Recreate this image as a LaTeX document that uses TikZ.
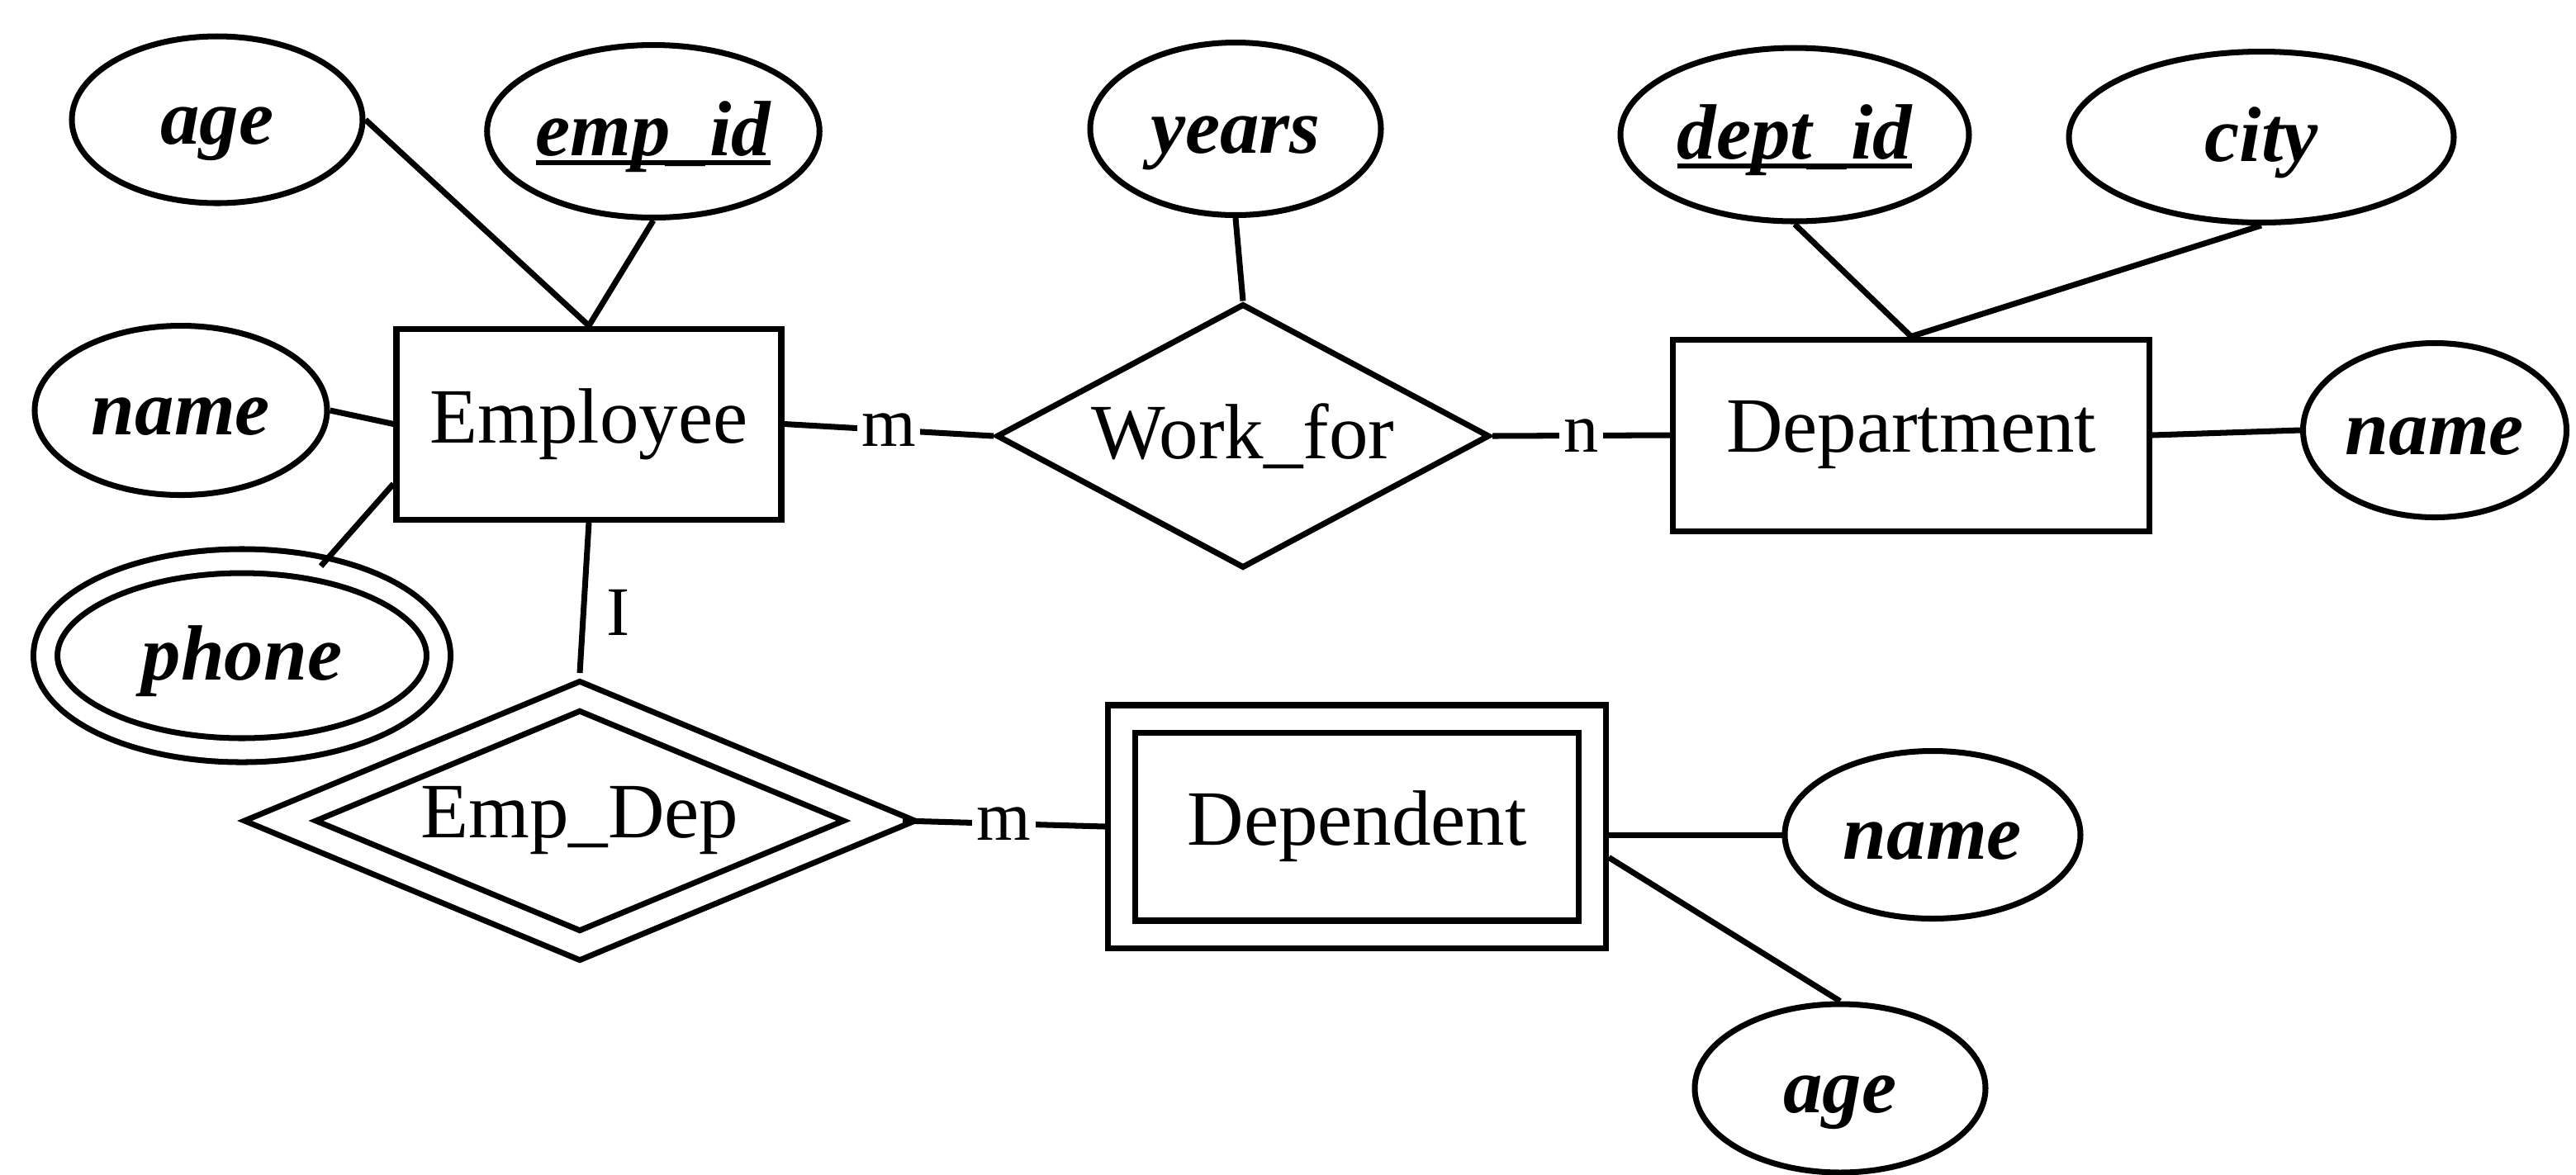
\documentclass[tikz,border=0pt]{standalone}
\usepackage{fontspec}
\setmainfont{Liberation Serif}
\usetikzlibrary{shapes.geometric}
\newcommand{\keyline}[1]{\begingroup\sbox0{#1}\rlap{\rule[-0.12em]{\wd0}{0.07em}}\usebox0\endgroup}
\begin{document}
\begin{tikzpicture}[
        line width=2pt,
        every node/.style={font=\fontsize{27}{32}\selectfont},
        attr/.style={draw, ellipse, inner sep=0pt, text height=23pt, text depth=6pt, font=\fontsize{27}{32}\selectfont\bfseries\itshape},
        entity/.style={draw, rectangle, inner sep=0pt},
        rel/.style={draw, diamond, inner sep=0pt},
        weak/.style={double, double distance=0.26cm, outer sep=0.2cm},
        card/.style={fill=white, inner sep=1.5pt, font=\fontsize{24}{28}\selectfont},
        cardside/.style={anchor=west, inner sep=7pt, font=\fontsize{24}{28}\selectfont}]
        \useasboundingbox (0,0) rectangle (31.19,-14.22);
        \node[attr, minimum width=3.52cm, minimum height=2.02cm] (age) at (2.63,-1.45) {age};
        \node[attr, minimum width=3.91cm, minimum height=2.09cm] (empid) at (7.91,-1.59) {\keyline{emp\_id}};
        \node[attr, minimum width=3.52cm, minimum height=2.09cm] (years) at (14.96,-1.56) {years};
        \node[attr, minimum width=4.22cm, minimum height=2.10cm] (deptid) at (21.73,-1.63) {\keyline{dept\_id}};
        \node[attr, minimum width=4.66cm, minimum height=2.07cm] (city) at (27.38,-1.66) {city};
        \node[attr, minimum width=3.54cm, minimum height=2.05cm] (ename) at (2.19,-4.97) {name};
        \node[attr, double, double distance=0.22cm, minimum width=4.76cm, minimum height=2.29cm] (phone) at (2.93,-7.94) {phone};
        \node[entity, minimum width=4.66cm, minimum height=2.31cm] (employee) at (7.13,-5.135) {Employee};
        \node[rel, aspect=1.87, minimum width=5.97cm, minimum height=3.20cm] (workfor) at (15.05,-5.28) {Work\_for};
        \node[entity, minimum width=5.77cm, minimum height=2.32cm] (dept) at (23.14,-5.27) {Department};
        \node[attr, minimum width=3.19cm, minimum height=2.11cm] (dname) at (29.48,-5.21) {name};
        \node[rel, weak, aspect=2.33, minimum width=7.42cm, minimum height=3.18cm] (empdep) at (7.02,-9.94) {Emp\_Dep};
        \node[entity, weak, minimum width=5.70cm, minimum height=2.61cm] (dependent) at (16.43,-10.01) {Dependent};
        \node[attr, minimum width=3.58cm, minimum height=2.03cm] (depname) at (23.40,-10.11) {name};
        \node[attr, minimum width=3.52cm, minimum height=2.04cm] (depage) at (22.28,-13.18) {age};
        \draw (age.east) -- (employee.north);
        \draw (empid.south) -- (employee.north);
        \draw (ename.east) -- (employee.west);
        \draw (employee.197) -- (phone);
        \draw (employee.east) -- node[card] {m} (workfor.west);
        \draw (workfor.east) -- node[card] {n} (dept.west);
        \draw (years.south) -- (workfor.north);
        \draw (deptid.south) -- (dept.north);
        \draw (city.south) -- (dept.north);
        \draw (dept.east) -- (dname.west);
        \draw (employee.south) -- node[cardside, pos=0.6] {I} (empdep.north);
        \draw (empdep.east) -- node[card] {m} (dependent.west);
        \draw (dependent.east |- depname.west) -- (depname.west);
        \draw (dependent.-7) -- (depage.north);
    \end{tikzpicture}
\end{document}
